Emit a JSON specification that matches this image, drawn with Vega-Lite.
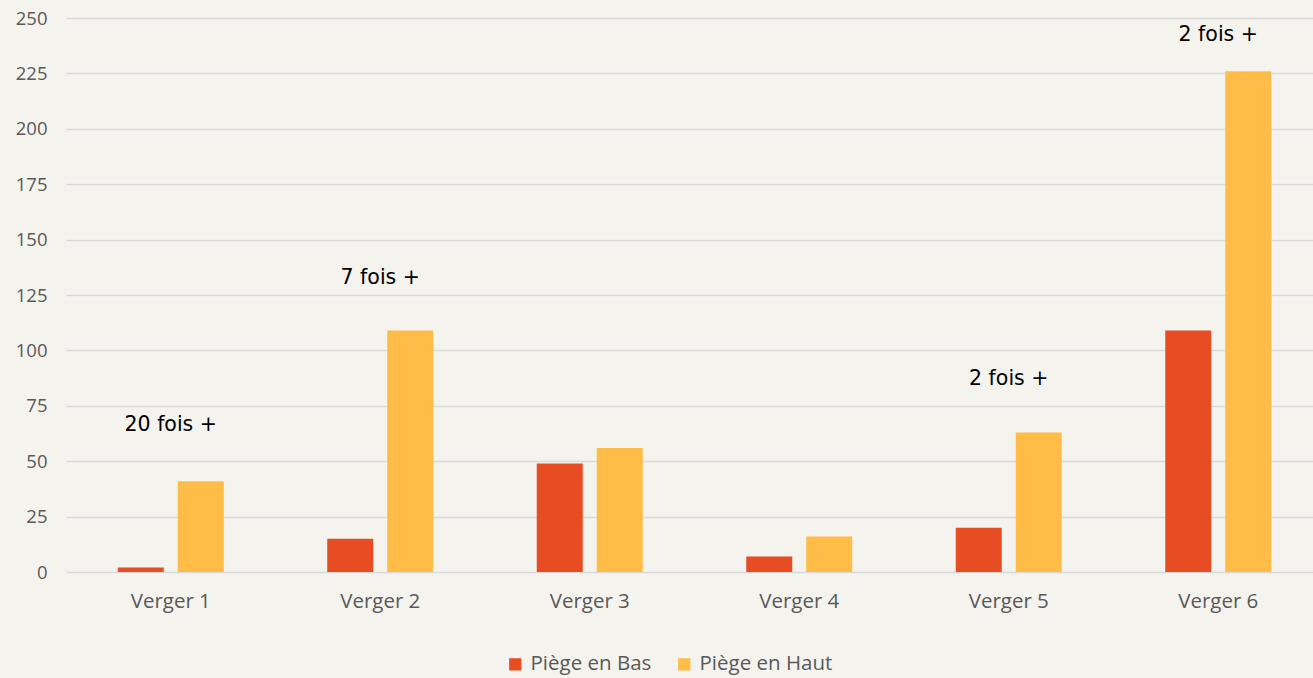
{
  "$schema": "https://vega.github.io/schema/vega-lite/v6.json",
  "width": 1257,
  "height": 554,
  "autosize": {"type": "none"},
  "padding": {"left": 66, "top": 18, "right": 0, "bottom": 106},
  "background": "#f5f3ee",
  "config": {"view": {"stroke": null}, "font": "Open Sans"},
  "datasets": {
    "bars": [
      {"verger": "Verger 1", "piege": "Piège en Bas", "valeur": 2},
      {"verger": "Verger 1", "piege": "Piège en Haut", "valeur": 41},
      {"verger": "Verger 2", "piege": "Piège en Bas", "valeur": 15},
      {"verger": "Verger 2", "piege": "Piège en Haut", "valeur": 109},
      {"verger": "Verger 3", "piege": "Piège en Bas", "valeur": 49},
      {"verger": "Verger 3", "piege": "Piège en Haut", "valeur": 56},
      {"verger": "Verger 4", "piege": "Piège en Bas", "valeur": 7},
      {"verger": "Verger 4", "piege": "Piège en Haut", "valeur": 16},
      {"verger": "Verger 5", "piege": "Piège en Bas", "valeur": 20},
      {"verger": "Verger 5", "piege": "Piège en Haut", "valeur": 63},
      {"verger": "Verger 6", "piege": "Piège en Bas", "valeur": 109},
      {"verger": "Verger 6", "piege": "Piège en Haut", "valeur": 226}
    ],
    "notes": [
      {"verger": "Verger 1", "texte": "20 fois +", "pos": 66.3},
      {"verger": "Verger 2", "texte": "7 fois +", "pos": 132.7},
      {"verger": "Verger 5", "texte": "2 fois +", "pos": 87.1},
      {"verger": "Verger 6", "texte": "2 fois +", "pos": 242.4}
    ]
  },
  "layer": [
    {
      "data": {"name": "bars"},
      "mark": {"type": "bar"},
      "encoding": {
        "x": {
          "field": "verger", "type": "nominal",
          "scale": {"paddingInner": 0.494, "paddingOuter": 0.247},
          "axis": {"title": null, "labelAngle": 0, "ticks": false, "domain": false,
                   "labelFontSize": 20.5, "labelColor": "#595959", "labelPadding": 19, "labelFont": "Open Sans"}
        },
        "xOffset": {"field": "piege", "type": "nominal", "scale": {"paddingInner": 0.233, "paddingOuter": 0}},
        "y": {
          "field": "valeur", "type": "quantitative",
          "scale": {"domain": [0, 250], "nice": false},
          "axis": {"title": null, "values": [0,25,50,75,100,125,150,175,200,225,250],
                   "ticks": false, "domain": false, "gridColor": "#d9d9d9", "gridWidth": 1.5,
                   "labelFontSize": 18.5, "labelColor": "#595959", "labelPadding": 19, "labelFont": "Open Sans"}
        },
        "color": {
          "field": "piege", "type": "nominal",
          "scale": {"domain": ["Piège en Bas", "Piège en Haut"], "range": ["#e84c22", "#ffbd47"]},
          "legend": {"title": null, "orient": "none", "legendX": 439, "legendY": 636, "direction": "horizontal", "symbolType": "square",
                     "symbolSize": 150, "symbolStrokeWidth": 0, "labelFontSize": 20.5, "labelColor": "#595959",
                     "labelFont": "Open Sans", "columnPadding": 22, "labelOffset": 5}
        }
      }
    },
    {
      "data": {"name": "notes"},
      "mark": {"type": "text", "font": "DejaVu Sans", "fontSize": 20.5, "color": "#000000", "baseline": "middle", "align": "center"},
      "encoding": {
        "x": {"field": "verger", "type": "nominal"},
        "y": {"field": "pos", "type": "quantitative"},
        "text": {"field": "texte"}
      }
    }
  ]
}
